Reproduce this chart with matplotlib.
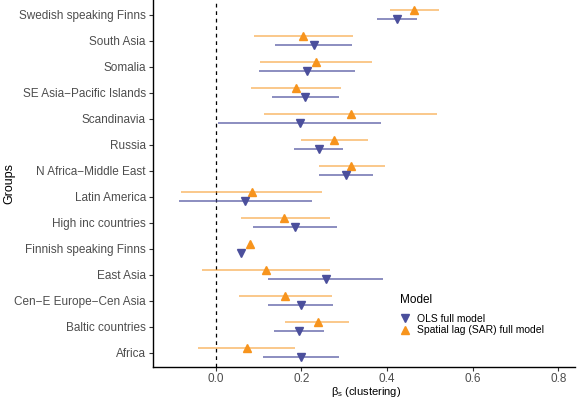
import matplotlib
matplotlib.use("Agg")
import matplotlib.pyplot as plt
import numpy as np

plt.rcParams['font.family'] = ['Liberation Sans', 'DejaVu Sans']
plt.rcParams['mathtext.fontset'] = 'custom'
plt.rcParams['mathtext.rm'] = 'Liberation Sans'
plt.rcParams['mathtext.it'] = 'Liberation Sans'

groups = ["Africa", "Baltic countries", "Cen\u2212E Europe\u2212Cen Asia", "East Asia",
          "Finnish speaking Finns", "High inc countries", "Latin America",
          "N Africa\u2212Middle East", "Russia", "Scandinavia",
          "SE Asia\u2212Pacific Islands", "Somalia", "South Asia", "Swedish speaking Finns"]

ols_est = [0.200, 0.194, 0.199, 0.257, 0.059, 0.184, 0.068, 0.304, 0.241, 0.196, 0.208, 0.213, 0.229, 0.423]
ols_lo  = [0.111, 0.135, 0.122, 0.123, 0.055, 0.088, -0.086, 0.242, 0.183, 0.006, 0.132, 0.102, 0.139, 0.377]
ols_hi  = [0.287, 0.252, 0.273, 0.390, 0.063, 0.283, 0.224, 0.367, 0.298, 0.386, 0.287, 0.326, 0.319, 0.471]

sar_est = [0.072, 0.238, 0.162, 0.117, 0.081, 0.160, 0.085, 0.317, 0.277, 0.315, 0.188, 0.235, 0.204, 0.464]
sar_lo  = [-0.041, 0.162, 0.054, -0.033, 0.077, 0.058, -0.081, 0.241, 0.200, 0.113, 0.083, 0.104, 0.090, 0.407]
sar_hi  = [0.186, 0.312, 0.271, 0.268, 0.085, 0.266, 0.249, 0.396, 0.355, 0.516, 0.293, 0.366, 0.320, 0.522]

series_labels = ["OLS full model", "Spatial lag (SAR) full model"]
xticks = [0.0, 0.2, 0.4, 0.6, 0.8]

ols_col = "#4B4F9C"
sar_col = "#F7941D"

fig = plt.figure(figsize=(5.81, 3.99), dpi=100)
ax = fig.add_axes([0.263, 0.080, 0.727, 0.920])

y = np.arange(len(groups))
off = 0.18
ax.hlines(y + off, sar_lo, sar_hi, color=sar_col, alpha=0.6, lw=1.2, zorder=2)
ax.hlines(y - off, ols_lo, ols_hi, color=ols_col, alpha=0.75, lw=1.2, zorder=2)
ax.plot(sar_est, y + off, linestyle='none', marker='^', ms=6, color=sar_col, zorder=3,
        label=series_labels[1])
ax.plot(ols_est, y - off, linestyle='none', marker='v', ms=6, color=ols_col, zorder=3,
        label=series_labels[0])

ax.axvline(0, color='black', ls=(0, (3, 3)), lw=0.9, zorder=1)

ax.set_xlim(-0.147, 0.8395)
ax.set_ylim(-0.56, len(groups) - 1 + 0.56)
ax.set_yticks(y)
ax.set_yticklabels(groups)
ax.set_xticks(xticks)
ax.set_xticklabels([f"{t:.1f}" for t in xticks])

for s in ['top', 'right']:
    ax.spines[s].set_visible(False)
for s in ['left', 'bottom']:
    ax.spines[s].set_linewidth(1.0)
    ax.spines[s].set_color('black')
ax.tick_params(axis='both', labelsize=8.5, labelcolor='#4D4D4D', color='#333333',
               length=3, width=0.8, pad=2)
ax.tick_params(axis='x', pad=1.0)

ax.set_xlabel(r"$\beta_\mathrm{s}$ (clustering)", fontsize=8, va='center')
ax.xaxis.set_label_coords(0.505, -0.068)
ax.set_ylabel("Groups", fontsize=9)
ax.yaxis.set_label_coords(-0.325, 0.5)

handles, labels = ax.get_legend_handles_labels()
order = [1, 0]
leg = ax.legend([handles[i] for i in order], [labels[i] for i in order],
                title="Model", loc='upper left', bbox_to_anchor=(0.576, 0.210),
                frameon=False, fontsize=7.5, title_fontsize=8.5, handlelength=1.0,
                handletextpad=0.6, labelspacing=0.15, borderaxespad=0)
leg._legend_box.align = "left"
leg._legend_box.sep = 5.4

fig.savefig("out.png", dpi=100)
